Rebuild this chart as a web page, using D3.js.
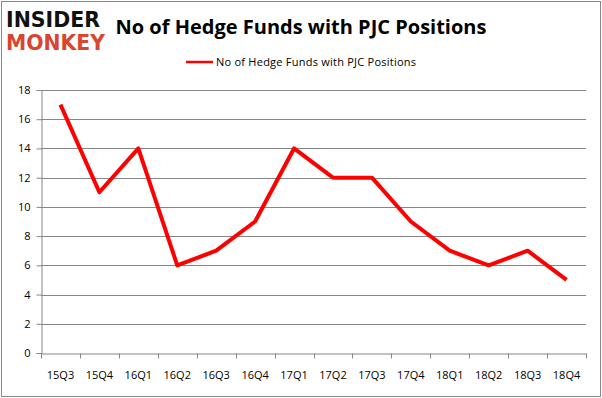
<!DOCTYPE html>
<html lang="en">
<head>
<meta charset="UTF-8">
<title>No of Hedge Funds with PJC Positions</title>
<script src="https://d3js.org/d3.v7.min.js"></script>
<style>
  body { margin: 0; background: #fff; }
  svg text { font-family: "Open Sans", "Liberation Sans", sans-serif; }
</style>
</head>
<body>
<div id="chart"></div>
<script>
// chart data
var quarters = ["15Q3", "15Q4", "16Q1", "16Q2", "16Q3", "16Q4", "17Q1", "17Q2", "17Q3", "17Q4", "18Q1", "18Q2", "18Q3", "18Q4"];
var fundCounts = [17, 11, 14, 6, 7, 9, 14, 12, 12, 9, 7, 6, 7, 5];
var yTicks = [0, 2, 4, 6, 8, 10, 12, 14, 16, 18];
var seriesName = "No of Hedge Funds with PJC Positions";

var W = 602, H = 398;
var margin = { top: 90, right: 16, bottom: 45, left: 41 };

var svg = d3.select("#chart").append("svg")
    .attr("width", W)
    .attr("height", H);

// outer frame
svg.append("rect")
    .attr("x", 1.5).attr("y", 1.5)
    .attr("width", W - 3).attr("height", H - 3)
    .attr("fill", "#fff")
    .attr("stroke", "#888");

// logo
svg.append("text")
    .attr("x", 6).attr("y", 27)
    .attr("font-size", 21).attr("font-weight", 900)
    .attr("textLength", 94).attr("lengthAdjust", "spacingAndGlyphs")
    .attr("fill", "#111")
    .style("font-family", "'DejaVu Sans', sans-serif")
    .text("INSIDER");
svg.append("text")
    .attr("x", 6).attr("y", 50)
    .attr("font-size", 21).attr("font-weight", 900)
    .attr("textLength", 99).attr("lengthAdjust", "spacingAndGlyphs")
    .attr("fill", "#d9452f")
    .style("font-family", "'DejaVu Sans', sans-serif")
    .text("MONKEY");

// title
svg.append("text")
    .attr("x", 301).attr("y", 34)
    .attr("text-anchor", "middle")
    .attr("font-size", 20).attr("font-weight", 700)
    .attr("fill", "#000")
    .text(seriesName);

var x = d3.scaleBand()
    .domain(quarters)
    .range([margin.left, W - margin.right]);

var y = d3.scaleLinear()
    .domain([0, 18])
    .range([H - margin.bottom, margin.top]);

// gridlines
svg.append("g")
    .selectAll("line")
    .data(yTicks.filter(function (d) { return d > 0; }))
    .enter()
    .append("line")
    .attr("x1", margin.left).attr("x2", W - margin.right)
    .attr("y1", function (d) { return Math.round(y(d)) + 0.5; })
    .attr("y2", function (d) { return Math.round(y(d)) + 0.5; })
    .attr("stroke", "#868686");

// y axis
var yAxis = svg.append("g")
    .attr("transform", "translate(" + (margin.left + 0.5) + ",0)")
    .call(d3.axisLeft(y).tickValues(yTicks).tickSize(5).tickPadding(6));
yAxis.select(".domain").attr("stroke", "#868686");
yAxis.selectAll(".tick line").attr("stroke", "#868686");
yAxis.selectAll("text").attr("font-size", 11).attr("fill", "#000");

// x axis
var xAxis = svg.append("g")
    .attr("transform", "translate(0," + (Math.round(y(0)) + 0.5) + ")")
    .call(d3.axisBottom(x).tickSize(0).tickPadding(18));
xAxis.select(".domain").attr("stroke", "#868686");
xAxis.selectAll("text").attr("font-size", 11).attr("fill", "#000");

// category boundary ticks
var bounds = quarters.map(function (q) { return x(q); }).concat([W - margin.right]);
xAxis.selectAll(".bound")
    .data(bounds)
    .enter()
    .append("line")
    .attr("class", "bound")
    .attr("x1", function (d) { return Math.round(d) + 0.5; })
    .attr("x2", function (d) { return Math.round(d) + 0.5; })
    .attr("y1", 0).attr("y2", 5)
    .attr("stroke", "#868686");

// line
var line = d3.line()
    .x(function (d, i) { return x(quarters[i]) + x.bandwidth() / 2; })
    .y(function (d) { return y(d); });

svg.append("path")
    .datum(fundCounts)
    .attr("d", line)
    .attr("fill", "none")
    .attr("stroke", "#ff0000")
    .attr("stroke-width", 4)
    .attr("stroke-linejoin", "round");

// legend
svg.append("line")
    .attr("x1", 186).attr("x2", 213)
    .attr("y1", 62).attr("y2", 62)
    .attr("stroke", "#ff0000")
    .attr("stroke-width", 2.5);
svg.append("text")
    .attr("x", 216).attr("y", 66)
    .attr("font-size", 11)
    .attr("textLength", 200)
    .attr("fill", "#000")
    .text(seriesName);
</script>
</body>
</html>
